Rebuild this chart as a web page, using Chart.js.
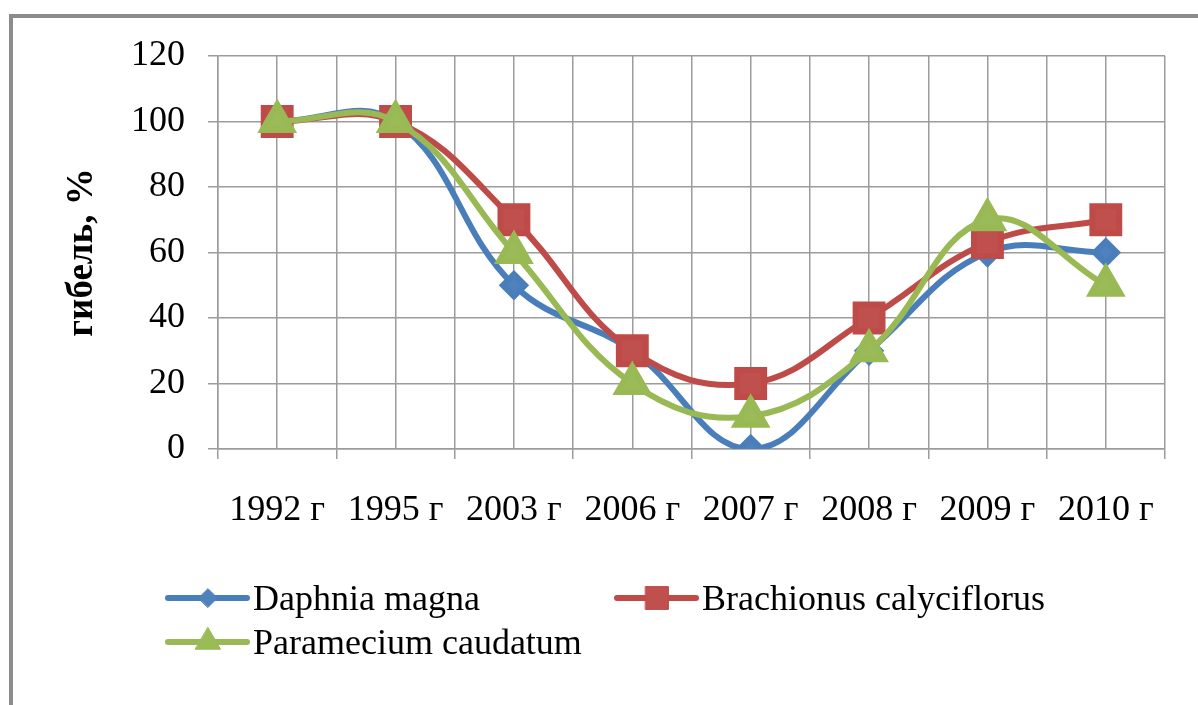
<!DOCTYPE html>
<html>
<head>
<meta charset="utf-8">
<script src="https://cdn.jsdelivr.net/npm/chart.js@4/dist/chart.umd.min.js"></script>
<style>
  html, body { margin: 0; padding: 0; background: #fff; overflow: hidden; }
  #wrap { position: relative; width: 1198px; height: 705px; }
  #frame { position: absolute; left: 9px; top: 14px; width: 2000px; height: 2000px;
           border-left: 4px solid #8c8c8c; border-top: 4px solid #8c8c8c; box-sizing: border-box; }
  canvas { position: absolute; left: 0; top: 0; }
</style>
</head>
<body>
<div id="wrap">
  <div id="frame"></div>
  <canvas id="c" width="1198" height="705"></canvas>
</div>
<script>
const categories = ['1992 г', '1995 г', '2003 г', '2006 г', '2007 г', '2008 г', '2009 г', '2010 г'];
const daphnia = [100, 100, 50, 30, 0, 30, 60, 60];
const brachionus = [100, 100, 70, 30, 20, 40, 63, 70];
const paramecium = [100, 100, 60, 20, 10, 30, 70, 50];
const seriesNames = ['Daphnia magna', 'Brachionus calyciflorus', 'Paramecium caudatum'];
const yTitle = 'гибель, %';

const FONT = '"Liberation Serif", "Times New Roman", serif';
const GRID = '#9c9c9c';

const legendPlugin = {
  id: 'customLegend',
  afterDraw(chart) {
    const ctx = chart.ctx;
    const slots = [[168, 598], [617, 598], [168, 642]];
    chart.data.datasets.forEach((ds, i) => {
      const [x, y] = slots[i];
      ctx.save();
      ctx.strokeStyle = ds.borderColor;
      ctx.lineWidth = 6;
      ctx.lineCap = 'round';
      ctx.beginPath();
      ctx.moveTo(x, y);
      ctx.lineTo(x + 79, y);
      ctx.stroke();
      ctx.fillStyle = ds.pointBackgroundColor;
      ctx.strokeStyle = ds.pointBorderColor;
      ctx.lineWidth = 1;
      Chart.helpers.drawPoint(ctx, {pointStyle: ds.pointStyle, radius: ds.pointRadius * 0.85, rotation: 0, borderWidth: 1}, x + 40, y);
      ctx.fillStyle = '#000';
      ctx.font = '36px ' + FONT;
      ctx.textBaseline = 'middle';
      ctx.textAlign = 'left';
      ctx.fillText(ds.label, x + 85, y + 3);
      ctx.restore();
    });
  }
};

new Chart(document.getElementById('c'), {
  type: 'line',
  data: {
    labels: categories,
    datasets: [
      { label: seriesNames[0], data: daphnia, borderColor: '#4a7ebb', borderWidth: 6,
        pointStyle: 'rectRot', pointRadius: 11, pointBackgroundColor: '#4f81bd', pointBorderColor: '#4a7ebb',
        tension: 0.4, order: 3 },
      { label: seriesNames[1], data: brachionus, borderColor: '#be4b48', borderWidth: 6,
        pointStyle: 'rect', pointRadius: 19, pointBackgroundColor: '#c0504d', pointBorderColor: '#be4b48',
        tension: 0.4, order: 2 },
      { label: seriesNames[2], data: paramecium, borderColor: '#98b954', borderWidth: 6,
        pointStyle: 'triangle', pointRadius: 17, pointBackgroundColor: '#9bbb59', pointBorderColor: '#98b954',
        tension: 0.4, order: 1 }
    ]
  },
  options: {
    responsive: false,
    animation: false,
    events: [],
    layout: { padding: { top: 56, right: 33, bottom: 0, left: 0 } },
    plugins: { legend: { display: false }, tooltip: { enabled: false } },
    scales: {
      x: {
        type: 'category',
        offset: true,
        grid: { offset: true, color: GRID, lineWidth: 1.5, drawTicks: true, tickLength: 10, tickColor: GRID },
        border: { color: GRID, width: 1.5 },
        ticks: { color: '#000', font: { family: FONT, size: 36 }, padding: 30, maxRotation: 0, autoSkip: false },
        afterFit(s) { s.height = 705 - 449; }
      },
      x2: {
        type: 'category',
        position: 'bottom',
        offset: true,
        grid: { offset: false, color: GRID, lineWidth: 1.5, drawTicks: false },
        border: { display: false },
        ticks: { display: false },
        afterFit(s) { s.height = 0; }
      },
      y: {
        min: 0, max: 120,
        ticks: { stepSize: 20, color: '#000', font: { family: FONT, size: 36 }, padding: 23 },
        grid: { color: GRID, lineWidth: 1.5, drawTicks: true, tickLength: 10, tickColor: GRID },
        border: { color: GRID, width: 1.5 },
        title: { display: true, text: yTitle, color: '#000', font: { family: FONT, size: 37, weight: 'bold' }, padding: { top: 60, bottom: 0 } },
        afterFit(s) { s.width = 218; }
      }
    }
  },
  plugins: [legendPlugin]
});
</script>
</body>
</html>
